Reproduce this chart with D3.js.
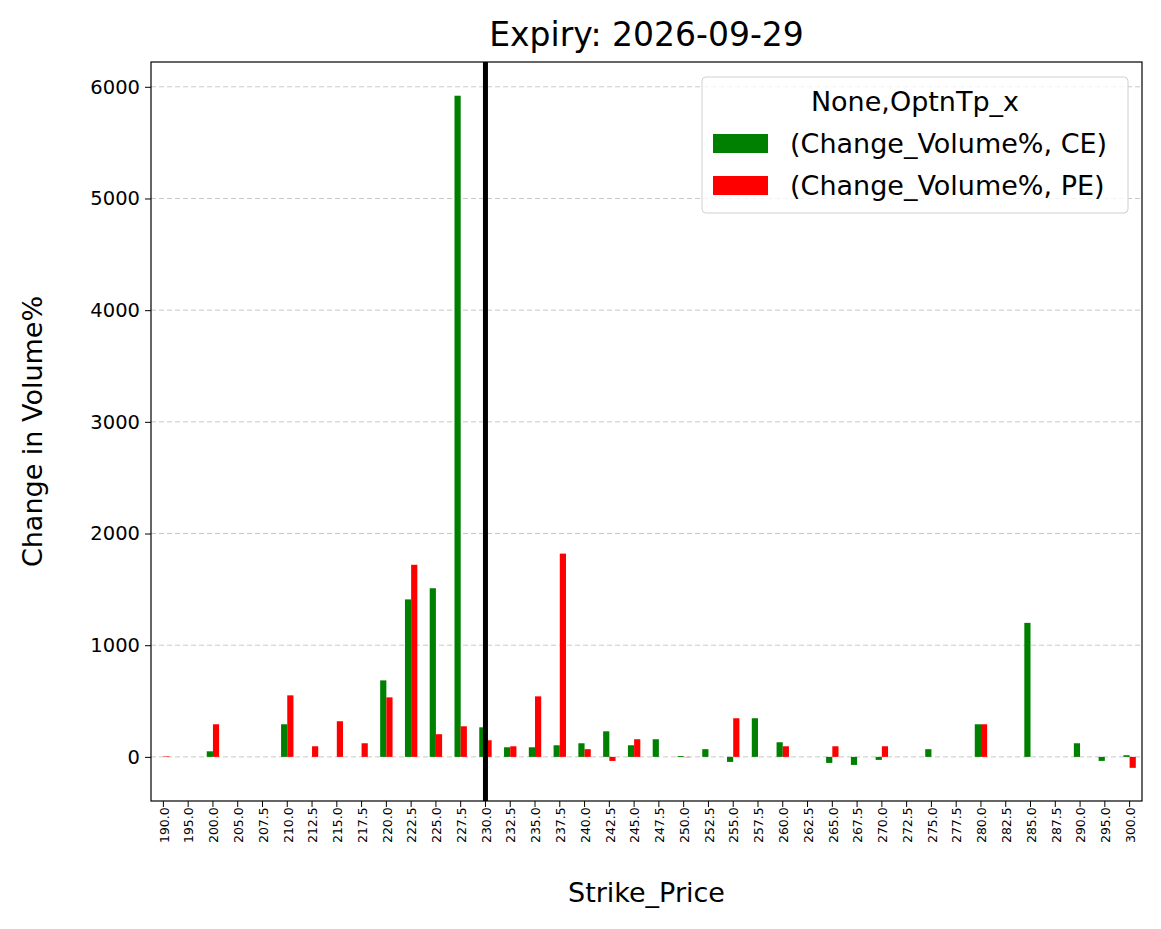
<!DOCTYPE html>
<html><head><meta charset="utf-8">
<script src="https://cdn.jsdelivr.net/npm/d3@7"></script>
<style>body{margin:0;background:#fff;font-family:"DejaVu Sans",sans-serif;}</style>
</head><body><svg id="c" width="1161" height="929"></svg>
<script>
const strikes=["190.0","195.0","200.0","205.0","207.5","210.0","212.5","215.0","217.5","220.0","222.5","225.0","227.5","230.0","232.5","235.0","237.5","240.0","242.5","245.0","247.5","250.0","252.5","255.0","257.5","260.0","262.5","265.0","267.5","270.0","272.5","275.0","277.5","280.0","282.5","285.0","287.5","290.0","295.0","300.0"];
const ceValues=[0,0,50,0,0,292,0,0,0,685,1410,1510,5920,265,86,86,104,122,229,104,158,8,69,-45,346,131,0,-54,-72,-27,0,69,0,292,0,1200,0,122,-36,15];
const peValues=[5,0,292,0,0,551,95,319,122,533,1720,203,274,149,95,542,1820,69,-36,158,0,-3,0,346,0,95,0,95,0,95,0,0,0,292,0,0,0,0,0,-98];
const yTicks=[0,1000,2000,3000,4000,5000,6000];
const spotStrike="230.0";
const seriesNames=["(Change_Volume%, CE)","(Change_Volume%, PE)"];
const colors=["green","red"];

const svg=d3.select("#c");
const L=151,R=1142,T=62,B=801;
const x=d3.scaleBand().domain(strikes).range([L,R]).paddingInner(0.5).paddingOuter(0.25);
const y=d3.scaleLinear().domain([-395,6222]).range([B,T]);
const bw=x.bandwidth()/2;

const g=svg.append("g");
g.selectAll("line.grid").data(yTicks).join("line")
 .attr("x1",L).attr("x2",R).attr("y1",d=>y(d)).attr("y2",d=>y(d))
 .attr("stroke","#c8c8c8").attr("stroke-dasharray","5,3").attr("stroke-width",1);

[ceValues,peValues].forEach((vals,si)=>{
 g.selectAll("rect.s"+si).data(vals).join("rect")
  .attr("x",(d,i)=>x(strikes[i])+si*bw).attr("width",bw)
  .attr("y",d=>y(Math.max(0,d))).attr("height",d=>Math.abs(y(d)-y(0)))
  .attr("fill",colors[si]);
});

const cx=x(spotStrike)+x.bandwidth()/2;
g.append("line").attr("x1",cx).attr("x2",cx).attr("y1",T).attr("y2",B).attr("stroke","black").attr("stroke-width",5);

const ya=svg.append("g").attr("transform",`translate(${L},0)`).call(d3.axisLeft(y).tickValues(yTicks).tickSize(6).tickPadding(5).tickFormat(d3.format("d")));
ya.selectAll("text").style("font-size","19.5px").style("font-family","DejaVu Sans").attr("fill","#000");
const xa=svg.append("g").attr("transform",`translate(0,${B})`).call(d3.axisBottom(x).tickSize(6).tickPadding(3));
xa.selectAll("text").style("font-size","12.5px").style("font-family","DejaVu Sans")
 .attr("transform","rotate(-90)").attr("text-anchor","end").attr("dx","-0.5em").attr("dy","-0.3em").attr("fill","#000");
svg.selectAll(".domain").remove();
svg.append("rect").attr("x",L).attr("y",T).attr("width",R-L).attr("height",B-T).attr("fill","none").attr("stroke","black").attr("stroke-width",1.2);

svg.append("text").attr("x",(L+R)/2).attr("y",46).attr("text-anchor","middle").style("font-size","33px").text("Expiry: 2026-09-29");
svg.append("text").attr("x",(L+R)/2).attr("y",902).attr("text-anchor","middle").style("font-size","27px").text("Strike_Price");
svg.append("text").attr("transform",`translate(42,${(T+B)/2}) rotate(-90)`).attr("text-anchor","middle").style("font-size","27px").text("Change in Volume%");

const lg=svg.append("g");
lg.append("rect").attr("x",702).attr("y",77).attr("width",426).attr("height",136).attr("rx",4).attr("fill","white").attr("fill-opacity",0.8).attr("stroke","#d0d0d0");
lg.append("text").attr("x",915).attr("y",111).attr("text-anchor","middle").style("font-size","27px").text("None,OptnTp_x");
seriesNames.forEach((n,i)=>{
 lg.append("rect").attr("x",713).attr("y",134+i*42).attr("width",55).attr("height",19).attr("fill",colors[i]);
 lg.append("text").attr("x",790).attr("y",153+i*42).style("font-size","27px").text(n);
});
</script></body></html>
